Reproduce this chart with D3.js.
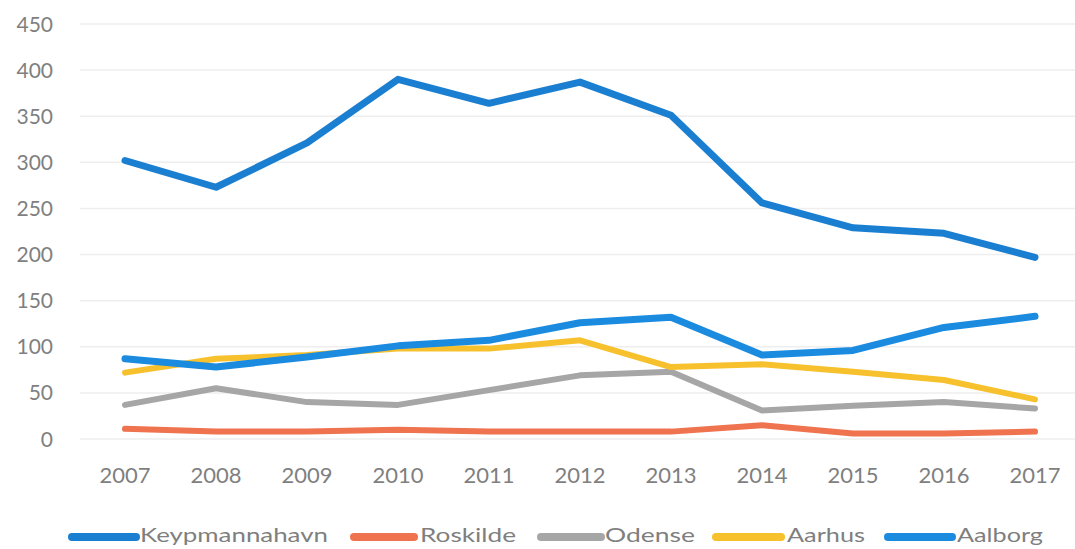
<!DOCTYPE html>
<html>
<head>
<meta charset="utf-8">
<script src="https://cdn.jsdelivr.net/npm/d3@7"></script>
<style>
  body { margin: 0; background: white; }
  text { font-family: Lato, "Open Sans", sans-serif; fill: #7f7f7f; }
</style>
</head>
<body>
<svg id="chart"></svg>
<script>
const years = ["2007", "2008", "2009", "2010", "2011", "2012", "2013", "2014", "2015", "2016", "2017"];
const yTicks = [0, 50, 100, 150, 200, 250, 300, 350, 400, 450];
const seriesNames = ["Keypmannahavn", "Roskilde", "Odense", "Aarhus", "Aalborg"];
const keypmannahavn = [302, 273, 321, 390, 364, 387, 351, 256, 229, 223, 197];
const roskilde = [11, 8, 8, 10, 8, 8, 8, 15, 6, 6, 8];
const odense = [37, 55, 40, 37, 53, 69, 73, 31, 36, 40, 33];
const aarhus = [72, 87, 91, 98, 98, 107, 78, 81, 73, 64, 43];
const aalborg = [87, 78, 89, 101, 107, 126, 132, 91, 96, 121, 133];
const colors = ["#1b7fd1", "#ef734f", "#a6a6a6", "#f7c12e", "#1b8be0"];

const dimensions = {
    width: 1075,
    height: 549
};

const svg = d3.select("#chart")
    .attr("width", dimensions.width)
    .attr("height", dimensions.height);

const xScale = d3.scalePoint()
    .domain(years)
    .range([125, 1035]);

const yScale = d3.scaleLinear()
    .domain([0, 450])
    .range([439, 24]);

// gridlines
svg.append("g")
    .selectAll("line")
    .data(yTicks)
    .enter().append("line")
    .attr("x1", 80)
    .attr("x2", 1075)
    .attr("y1", d => yScale(d))
    .attr("y2", d => yScale(d))
    .attr("stroke", "#eeeeee")
    .attr("stroke-width", 1.5);

// y labels
svg.append("g")
    .selectAll("text")
    .data(yTicks)
    .enter().append("text")
    .attr("x", 53)
    .attr("y", d => yScale(d))
    .attr("dy", "0.36em")
    .attr("text-anchor", "end")
    .style("font-size", "21px")
    .text(d => d);

// x labels
svg.append("g")
    .selectAll("text")
    .data(years)
    .enter().append("text")
    .attr("x", d => xScale(d))
    .attr("y", 483)
    .attr("text-anchor", "middle")
    .style("font-size", "22px")
    .text(d => d);

const allSeries = [keypmannahavn, roskilde, odense, aarhus, aalborg];

const line = d3.line()
    .x((d, i) => xScale(years[i]))
    .y(d => yScale(d));

// draw order: back to front
const drawOrder = [1, 2, 3, 4, 0];
svg.append("g")
    .selectAll("path")
    .data(drawOrder)
    .enter().append("path")
    .attr("d", k => line(allSeries[k]))
    .attr("fill", "none")
    .attr("stroke", k => colors[k])
    .attr("stroke-width", k => k === 0 || k === 4 ? 7 : 6)
    .attr("stroke-linejoin", "round")
    .attr("stroke-linecap", "round");

// legend
const legendPos = [
    { x1: 72, x2: 136, tx: 140, tw: 188 },
    { x1: 354, x2: 414, tx: 420, tw: 96 },
    { x1: 541, x2: 601, tx: 605, tw: 90 },
    { x1: 716, x2: 781, tx: 787, tw: 78 },
    { x1: 888, x2: 952, tx: 957, tw: 86 }
];

const legend = svg.selectAll(".legend")
    .data(seriesNames)
    .enter()
    .append("g")
    .attr("class", "legend");

legend.append("line")
    .attr("x1", (d, i) => legendPos[i].x1)
    .attr("x2", (d, i) => legendPos[i].x2)
    .attr("y1", 537)
    .attr("y2", 537)
    .attr("stroke", (d, i) => colors[i])
    .attr("stroke-width", 8)
    .attr("stroke-linecap", "round");

legend.append("text")
    .attr("x", (d, i) => legendPos[i].tx)
    .attr("y", 535)
    .attr("dy", "0.36em")
    .attr("textLength", (d, i) => legendPos[i].tw)
    .attr("lengthAdjust", "spacingAndGlyphs")
    .style("font-size", "20px")
    .text(d => d);
</script>
</body>
</html>
